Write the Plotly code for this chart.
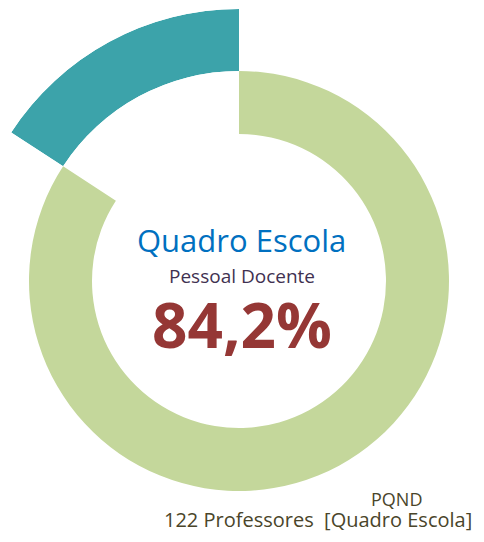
import math
import plotly.graph_objects as go

# ---- data ----
categories = ["Quadro Escola", "Outros"]
values = [84.2, 15.8]
center_title = "Quadro Escola"
center_subtitle = "Pessoal Docente"
center_value = "84,2%"
footer_lines = ["PQND", "122 Professores  [Quadro Escola]"]

# ---- layout constants (pixels, window coordinates) ----
OFF = 8                     # default body margin of the html page
W, H = 484 - OFF, 542 - 2 * OFF
CX, CY = 239, 281           # ring centre
R_OUT = 210                 # green ring outer radius
R_IN = 147                  # green ring inner radius
R_TEAL = 272                # teal segment outer radius
GREEN = "#C4D79B"
TEAL = "#3CA3AA"

total = sum(values)
teal_deg = 360 * values[1] / total


def px_x(x):
    return (x - OFF) / W


def px_y(y):
    return 1 - (y - OFF) / H


fig = go.Figure()

# green ring (pie, second slice transparent)
fig.add_trace(go.Pie(
    labels=categories, values=values, hole=R_IN / R_OUT, sort=False,
    direction="clockwise", rotation=0,
    marker=dict(colors=[GREEN, "rgba(0,0,0,0)"], line=dict(width=0)),
    textinfo="none", hoverinfo="label+percent", showlegend=False,
    domain=dict(x=[px_x(CX - R_OUT), px_x(CX + R_OUT)],
                y=[px_y(CY + R_OUT), px_y(CY - R_OUT)]),
))

# teal segment on an outer ring (barpolar in a sector subplot)
s0, s1 = 90, 90 + teal_deg
bx0 = min(0, math.cos(math.radians(s1)))
bx1 = 0
by0, by1 = 0, 1
dom_x = [max(0, px_x(CX + R_TEAL * bx0)), px_x(CX + R_TEAL * bx1)]
dom_y = [px_y(CY - R_TEAL * by0), min(1, px_y(CY - R_TEAL * by1))]

fig.add_trace(go.Barpolar(
    r=[1], theta=[teal_deg / 2], width=[teal_deg],
    marker=dict(color=TEAL, line=dict(width=0)),
    name=categories[1], subplot="polar", showlegend=False,
    hovertext=[f"{values[1]}%"], hoverinfo="text",
))

fig.update_layout(
    width=W, height=H, margin=dict(l=0, r=0, t=0, b=0),
    paper_bgcolor="white", plot_bgcolor="white",
    polar=dict(
        domain=dict(x=dom_x, y=dom_y),
        sector=[s0, s1], hole=R_OUT / R_TEAL,
        bgcolor="rgba(0,0,0,0)",
        radialaxis=dict(visible=False, range=[0, 1]),
        angularaxis=dict(visible=False, rotation=90, direction="counterclockwise",
                         thetaunit="degrees"),
    ),
)

FONT = "Open Sans"
ann = [
    dict(text=center_title, x=241, y=240, size=31, color="#0070C0", anchor="center"),
    dict(text=center_subtitle, x=242, y=276, size=19, color="#3F3151", anchor="center"),
    dict(text=f"<b>{center_value}</b>", x=242, y=324, size=62, color="#953735", anchor="center"),
    dict(text=footer_lines[0], x=396, y=499, size=18, color="#4A452A", anchor="center"),
    dict(text=footer_lines[1], x=474, y=519, size=20, color="#4A452A", anchor="right"),
]
for a in ann:
    fig.add_annotation(text=a["text"], x=px_x(a["x"]), y=px_y(a["y"]), xref="paper", yref="paper",
                       xanchor=a["anchor"], yanchor="middle", showarrow=False,
                       font=dict(family=FONT, size=a["size"], color=a["color"]))

fig.write_html("out.html")
